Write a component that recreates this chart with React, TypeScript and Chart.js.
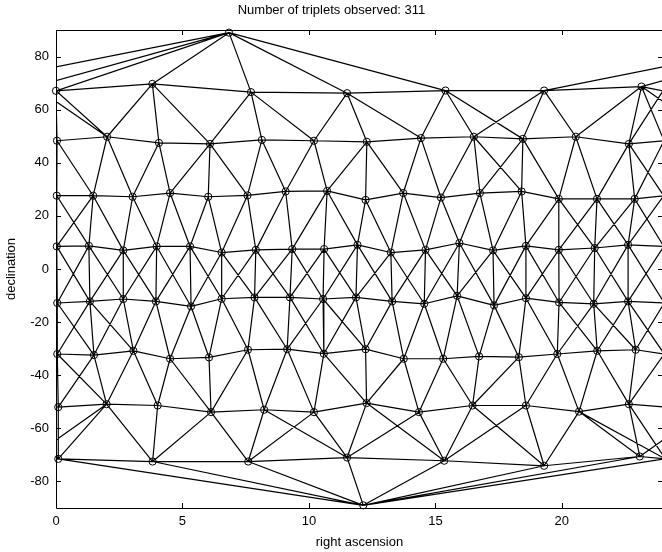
import React, { useEffect, useRef } from "react";
import { Chart, registerables } from "chart.js";

Chart.register(...registerables);

const TITLE = "Number of triplets observed: 311";
const X_LABEL = "right ascension";
const Y_LABEL = "declination";
const X_TICKS = [0, 5, 10, 15, 20];
const Y_TICKS = [-80, -60, -40, -20, 0, 20, 40, 60, 80];
const X_MIN = 0;
const X_MAX = 24;
const Y_MIN = -90;
const Y_MAX = 90;

// star positions (right ascension in hours, declination in degrees), per band
const RA_N = [6.84];
const DEC_N = [89.0];
const RA_A = [0.0, 3.81, 7.71, 11.51, 15.4, 19.3, 23.15];
const DEC_A = [67.1, 69.7, 66.6, 66.2, 67.2, 67.2, 68.7];
const RA_B = [0.04, 2.02, 4.07, 6.09, 8.14, 10.2, 12.29, 14.43, 16.52, 18.46, 20.55, 22.65];
const DEC_B = [48.3, 49.8, 47.5, 47.1, 48.6, 48.3, 47.9, 49.3, 49.8, 49.0, 49.8, 47.1];
const RA_C = [0.03, 1.47, 3.03, 4.51, 6.02, 7.57, 9.08, 10.72, 12.24, 13.73, 15.22, 16.76, 18.41, 19.88, 21.39, 22.88];
const DEC_C = [27.6, 27.6, 27.2, 28.6, 27.2, 27.7, 29.2, 29.4, 26.0, 28.6, 26.9, 28.6, 29.2, 26.4, 26.4, 26.4];
const RA_D = [0.03, 1.3, 2.66, 3.98, 5.3, 6.55, 7.9, 9.34, 10.6, 11.92, 13.24, 14.61, 15.95, 17.28, 18.58, 19.88, 21.3, 22.62];
const DEC_D = [8.5, 8.7, 7.0, 8.5, 8.5, 6.2, 7.2, 7.5, 7.5, 9.1, 6.2, 7.2, 9.8, 7.0, 8.7, 7.2, 7.9, 9.1];
const RA_E = [0.05, 1.34, 2.66, 3.95, 5.34, 6.55, 7.85, 9.25, 10.56, 11.86, 13.29, 14.56, 15.86, 17.32, 18.58, 19.89, 21.26, 22.62];
const DEC_E = [-12.8, -12.2, -11.3, -12.2, -14.1, -11.2, -10.7, -10.7, -11.3, -10.7, -12.2, -13.1, -10.1, -13.7, -11.0, -12.6, -13.1, -12.2];
const RA_F = [0.05, 1.5, 3.06, 4.51, 6.05, 7.59, 9.14, 10.59, 12.24, 13.75, 15.31, 16.73, 18.3, 19.82, 21.4, 22.92];
const DEC_F = [-32.0, -32.4, -30.8, -33.8, -33.3, -30.4, -30.2, -31.9, -30.2, -33.8, -33.8, -32.9, -33.2, -32.0, -30.8, -30.4];
const RA_G = [0.09, 2.0, 4.02, 6.13, 8.23, 10.2, 12.28, 14.35, 16.47, 18.58, 20.68, 22.65];
const DEC_G = [-52.0, -50.9, -51.4, -53.9, -53.0, -53.9, -50.5, -53.9, -51.4, -51.4, -53.7, -50.9];
const RA_H = [0.09, 3.82, 7.6, 11.51, 15.35, 19.3, 23.08];
const DEC_H = [-71.5, -72.5, -72.5, -71.0, -72.2, -74.1, -70.6];
const RA_S = [12.15];
const DEC_S = [-89.0];

// bands whose neighbouring stars are joined into a ring
const RING_BANDS = ["A", "B", "C", "D", "E", "F", "G", "H"];

// triangle edges between bands ("w" = edge crossing 0h / 24h)
const EDGES_NA = ["N0 A0", "N0 A1", "N0 A2", "N0 A3", "N0 A4", "N0 A5 w", "N0 A6 w"];
const EDGES_AB = ["A0 B0", "A0 B1", "A1 B1", "A1 B2", "A1 B3", "A2 B3", "A2 B4", "A2 B5", "A3 B5", "A3 B6", "A3 B7", "A4 B7", "A4 B8", "A4 B9", "A5 B8", "A5 B9", "A5 B10", "A6 B10", "A6 B11", "A6 B0 w", "A6 B1 w", "A0 B11 w"];
const EDGES_BC = ["B0 C0", "B0 C1", "B1 C1", "B1 C2", "B2 C2", "B2 C3", "B3 C3", "B3 C4", "B3 C5", "B4 C5", "B4 C6", "B5 C6", "B5 C7", "B6 C7", "B6 C8", "B6 C9", "B7 C9", "B7 C10", "B8 C10", "B8 C11", "B8 C12", "B9 C11", "B9 C12", "B9 C13", "B10 C13", "B10 C14", "B11 C14", "B11 C15", "B11 C0 w", "B0 C15 w"];
const EDGES_CD = ["C0 D0", "C0 D1", "C1 D0", "C1 D1", "C1 D2", "C2 D2", "C2 D3", "C3 D3", "C3 D4", "C4 D4", "C4 D5", "C5 D5", "C5 D6", "C6 D6", "C6 D7", "C7 D7", "C7 D8", "C7 D9", "C8 D9", "C8 D10", "C9 D10", "C9 D11", "C10 D11", "C10 D12", "C11 D12", "C11 D13", "C12 D13", "C12 D14", "C13 D14", "C13 D15", "C13 D16", "C14 D15", "C14 D16", "C14 D17", "C15 D16", "C15 D17", "C15 D0 w", "C0 D17 w"];
const EDGES_DE = ["D0 E0", "D0 E1", "D1 E0", "D1 E1", "D1 E2", "D2 E1", "D2 E2", "D2 E3", "D3 E2", "D3 E3", "D3 E4", "D4 E3", "D4 E4", "D4 E5", "D5 E4", "D5 E5", "D5 E6", "D6 E5", "D6 E6", "D6 E7", "D7 E6", "D7 E7", "D7 E8", "D8 E7", "D8 E8", "D8 E9", "D9 E8", "D9 E9", "D9 E10", "D10 E9", "D10 E10", "D10 E11", "D11 E10", "D11 E11", "D11 E12", "D12 E11", "D12 E12", "D12 E13", "D13 E12", "D13 E13", "D13 E14", "D14 E13", "D14 E14", "D14 E15", "D15 E14", "D15 E15", "D15 E16", "D16 E15", "D16 E16", "D16 E17", "D17 E16", "D17 E17", "D17 E0 w", "D0 E17 w"];
const EDGES_EF = ["E0 F0", "E0 F1", "E1 F0", "E1 F1", "E1 F2", "E2 F1", "E2 F2", "E3 F2", "E3 F3", "E4 F3", "E4 F4", "E5 F4", "E5 F5", "E6 F5", "E6 F6", "E7 F6", "E7 F7", "E8 F6", "E8 F7", "E8 F8", "E9 F7", "E9 F8", "E10 F8", "E10 F9", "E11 F9", "E11 F10", "E12 F10", "E12 F11", "E13 F11", "E13 F12", "E14 F12", "E14 F13", "E15 F13", "E15 F14", "E16 F13", "E16 F14", "E16 F15", "E17 F14", "E17 F15", "E17 F0 w", "E0 F15 w"];
const EDGES_FG = ["F0 G0", "F0 G1", "F1 G0", "F1 G1", "F2 G1", "F2 G2", "F3 G2", "F3 G3", "F4 G3", "F5 G3", "F5 G4", "F6 G4", "F6 G5", "F7 G5", "F7 G6", "F8 G6", "F9 G6", "F9 G7", "F10 G7", "F10 G8", "F11 G8", "F12 G8", "F12 G9", "F13 G9", "F13 G10", "F14 G10", "F14 G11", "F15 G11", "F0 G11 w"];
const EDGES_GH = ["G0 H0", "G1 H0", "G1 H1", "G2 H1", "G3 H1", "G3 H2", "G4 H2", "G4 H3", "G5 H2", "G5 H3", "G6 H3", "G6 H4", "G7 H3", "G7 H4", "G8 H4", "G8 H5", "G9 H4", "G9 H5", "G10 H5", "G10 H6", "G10 H0 w", "G11 H6", "G11 H0 w", "G1 H6 w"];
const EDGES_HS = ["H0 S0", "H1 S0", "H2 S0", "H3 S0", "H4 S0", "H5 S0", "H6 S0", "H0 S0 w"];

const FONT = "'Liberation Sans', Arial, Helvetica, sans-serif";

type Pt = { x: number; y: number };

function buildBands(): Record<string, Pt[]> {
  const src: Record<string, [number[], number[]]> = {
    N: [RA_N, DEC_N], A: [RA_A, DEC_A], B: [RA_B, DEC_B], C: [RA_C, DEC_C],
    D: [RA_D, DEC_D], E: [RA_E, DEC_E], F: [RA_F, DEC_F], G: [RA_G, DEC_G],
    H: [RA_H, DEC_H], S: [RA_S, DEC_S],
  };
  const out: Record<string, Pt[]> = {};
  Object.keys(src).forEach((k) => {
    const [ra, dec] = src[k];
    out[k] = ra.map((r, i) => ({ x: r, y: dec[i] }));
  });
  return out;
}

function ref(bands: Record<string, Pt[]>, s: string): Pt {
  return bands[s[0]][parseInt(s.slice(1), 10)];
}

function buildSegments(bands: Record<string, Pt[]>): (Pt | { x: number; y: null })[] {
  const edges: [Pt, Pt, boolean][] = [];
  RING_BANDS.forEach((b) => {
    const pts = bands[b];
    for (let i = 0; i < pts.length; i++) {
      const j = (i + 1) % pts.length;
      edges.push([pts[i], pts[j], j === 0]);
    }
  });
  [EDGES_NA, EDGES_AB, EDGES_BC, EDGES_CD, EDGES_DE, EDGES_EF, EDGES_FG, EDGES_GH, EDGES_HS].forEach((list) => {
    list.forEach((e) => {
      const parts = e.split(" ");
      edges.push([ref(bands, parts[0]), ref(bands, parts[1]), parts[2] === "w"]);
    });
  });
  const data: (Pt | { x: number; y: null })[] = [];
  edges.forEach(([p, q, wrap]) => {
    if (!wrap) {
      data.push({ x: p.x, y: p.y }, { x: q.x, y: q.y }, { x: q.x, y: null });
    } else {
      const hi = p.x >= q.x ? p : q;
      const lo = p.x >= q.x ? q : p;
      data.push({ x: hi.x, y: hi.y }, { x: lo.x + 24, y: lo.y }, { x: lo.x + 24, y: null });
      data.push({ x: hi.x - 24, y: hi.y }, { x: lo.x, y: lo.y }, { x: lo.x, y: null });
    }
  });
  return data;
}

const framePlugin = {
  id: "matlabFrame",
  afterDraw(chart: any) {
    const { ctx, chartArea } = chart;
    const { left, right, top, bottom } = chartArea;
    const xs = chart.scales.x;
    const ys = chart.scales.y;
    const TL = 5;
    ctx.save();
    ctx.strokeStyle = "#000";
    ctx.lineWidth = 1;
    ctx.beginPath();
    ctx.rect(Math.round(left) + 0.5, Math.round(top) + 0.5, Math.round(right - left), Math.round(bottom - top));
    X_TICKS.forEach((v) => {
      const px = Math.round(xs.getPixelForValue(v)) + 0.5;
      ctx.moveTo(px, bottom);
      ctx.lineTo(px, bottom - TL);
      ctx.moveTo(px, top);
      ctx.lineTo(px, top + TL);
    });
    Y_TICKS.forEach((v) => {
      const py = Math.round(ys.getPixelForValue(v)) + 0.5;
      ctx.moveTo(left, py);
      ctx.lineTo(left + TL, py);
      ctx.moveTo(right, py);
      ctx.lineTo(right - TL, py);
    });
    ctx.stroke();
    ctx.restore();
  },
};

export default function App() {
  const canvasRef = useRef<HTMLCanvasElement | null>(null);

  useEffect(() => {
    if (!canvasRef.current) return;
    const bands = buildBands();
    const stars: Pt[] = [];
    Object.keys(bands).forEach((k) => bands[k].forEach((p) => stars.push(p)));
    const segs = buildSegments(bands);

    const chart = new Chart(canvasRef.current, {
      type: "scatter",
      data: {
        datasets: [
          {
            label: "stars",
            data: stars,
            showLine: false,
            pointStyle: "circle",
            pointRadius: 3.6,
            pointBorderWidth: 1,
            pointBorderColor: "#000",
            pointBackgroundColor: "rgba(0,0,0,0)",
            clip: false as any,
          },
          {
            label: "triplets",
            data: segs as any,
            showLine: true,
            spanGaps: false,
            borderColor: "#000",
            borderWidth: 1.2,
            pointRadius: 0,
            pointHoverRadius: 0,
            clip: 0 as any,
          },
        ],
      },
      options: {
        responsive: false,
        animation: false,
        devicePixelRatio: 1,
        events: [],
        layout: { padding: { left: 0, right: 17, top: 0, bottom: 0 } },
        plugins: {
          legend: { display: false },
          tooltip: { enabled: false },
          title: {
            display: true,
            text: TITLE,
            color: "#000",
            font: { family: FONT, size: 13, weight: "normal" },
            padding: { top: 3, bottom: 11.4 },
          },
        },
        scales: {
          x: {
            type: "linear",
            min: X_MIN,
            max: X_MAX,
            afterBuildTicks: (s: any) => {
              s.ticks = X_TICKS.map((v) => ({ value: v }));
            },
            afterFit: (s: any) => {
              s.height = 44;
            },
            grid: { display: false, drawTicks: false },
            border: { display: false },
            ticks: {
              color: "#000",
              font: { family: FONT, size: 13 },
              padding: 6,
              maxRotation: 0,
              autoSkip: false,
            },
            title: {
              display: true,
              text: X_LABEL,
              color: "#000",
              font: { family: FONT, size: 13 },
              padding: { top: 0, bottom: 2 },
            },
          },
          y: {
            type: "linear",
            min: Y_MIN,
            max: Y_MAX,
            afterBuildTicks: (s: any) => {
              s.ticks = Y_TICKS.map((v) => ({ value: v }));
            },
            afterFit: (s: any) => {
              s.width = 56;
            },
            grid: { display: false, drawTicks: false },
            border: { display: false },
            ticks: {
              color: "#000",
              font: { family: FONT, size: 13 },
              padding: 7,
              autoSkip: false,
            },
            title: {
              display: true,
              text: Y_LABEL,
              color: "#000",
              font: { family: FONT, size: 13 },
              padding: { top: 4, bottom: 0 },
            },
          },
        },
      },
      plugins: [framePlugin],
    });
    return () => chart.destroy();
  }, []);

  return (
    <div
      style={{
        position: "fixed",
        left: 0,
        top: 0,
        width: 662,
        height: 552,
        overflow: "hidden",
        background: "#fff",
      }}
    >
      <canvas ref={canvasRef} width={680} height={552} style={{ display: "block" }} />
    </div>
  );
}
